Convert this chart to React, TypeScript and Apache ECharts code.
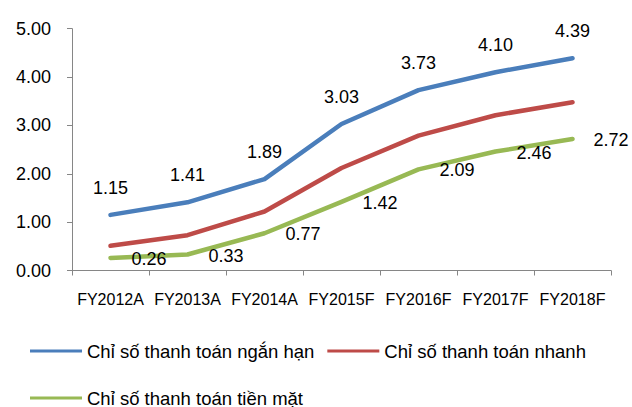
import React, { useEffect, useRef } from "react";
import * as echarts from "echarts";

const categories = ["FY2012A", "FY2013A", "FY2014A", "FY2015F", "FY2016F", "FY2017F", "FY2018F"];
const currentRatio = [1.15, 1.41, 1.89, 3.03, 3.73, 4.1, 4.39];
const quickRatio = [0.51, 0.73, 1.22, 2.12, 2.79, 3.21, 3.48];
const cashRatio = [0.26, 0.33, 0.77, 1.42, 2.09, 2.46, 2.72];
const seriesNames = [
  "Chỉ số thanh toán ngắn hạn",
  "Chỉ số thanh toán nhanh",
  "Chỉ số thanh toán tiền mặt",
];
const yTicks = [0, 1, 2, 3, 4, 5];

const FONT = "'Liberation Sans', Arial, sans-serif";
const BLUE = "#4A7EBB";
const RED = "#BE4B48";
const GREEN = "#98B954";
const AXIS = "#868686";

export default function App() {
  const ref = useRef<HTMLDivElement>(null);
  useEffect(() => {
    if (!ref.current) return;
    const chart = echarts.init(ref.current, undefined, { renderer: "svg" });
    const lineBase = (color: string) => ({
      type: "line",
      symbol: "circle",
      symbolSize: 0,
      showSymbol: true,
      itemStyle: { color },
      lineStyle: { color, width: 4.5, cap: "round", join: "round" },
    });
    const legendText = { color: "#000", fontSize: 18.5, fontFamily: FONT, lineHeight: 20 };
    chart.setOption({
      animation: false,
      backgroundColor: "#ffffff",
      textStyle: { fontFamily: FONT },
      grid: { left: 72, right: 21, top: 28.7, bottom: 136.5, containLabel: false },
      xAxis: {
        type: "category",
        data: categories,
        boundaryGap: true,
        axisLine: { lineStyle: { color: AXIS, width: 1 } },
        axisTick: { show: true, length: 5, alignWithLabel: false, lineStyle: { color: AXIS } },
        axisLabel: { color: "#000", fontSize: 16, fontFamily: FONT, margin: 21, interval: 0 },
      },
      yAxis: {
        type: "value",
        min: yTicks[0],
        max: yTicks[yTicks.length - 1],
        interval: 1,
        splitLine: { show: false },
        axisLine: { show: true, lineStyle: { color: AXIS, width: 1 } },
        axisTick: { show: true, length: 5, lineStyle: { color: AXIS } },
        axisLabel: {
          color: "#000",
          fontSize: 18,
          fontFamily: FONT,
          margin: 21,
          formatter: (v: number) => v.toFixed(2),
        },
      },
      legend: [
        {
          data: [seriesNames[0], seriesNames[1]],
          left: 30,
          top: 341,
          padding: 0,
          orient: "horizontal",
          icon: "rect",
          itemWidth: 52,
          itemHeight: 3,
          itemGap: 13,
          textStyle: legendText,
        },
        {
          data: [seriesNames[2]],
          left: 30,
          top: 388,
          padding: 0,
          orient: "horizontal",
          icon: "rect",
          itemWidth: 52,
          itemHeight: 3,
          textStyle: legendText,
        },
      ],
      series: [
        {
          ...lineBase(BLUE),
          name: seriesNames[0],
          data: currentRatio,
          z: 3,
          label: {
            show: true,
            position: "top",
            distance: 18,
            color: "#000",
            fontSize: 18,
            fontFamily: FONT,
            formatter: (p: any) => Number(p.value).toFixed(2),
          },
        },
        {
          ...lineBase(RED),
          name: seriesNames[1],
          data: quickRatio,
          z: 2,
          label: { show: false },
        },
        {
          ...lineBase(GREEN),
          name: seriesNames[2],
          data: cashRatio,
          z: 1,
          label: {
            show: true,
            position: "right",
            distance: 21,
            offset: [0, 1],
            color: "#000",
            fontSize: 18,
            fontFamily: FONT,
            formatter: (p: any) => Number(p.value).toFixed(2),
          },
        },
      ],
    });
    return () => chart.dispose();
  }, []);
  return (
    <div
      ref={ref}
      style={{ position: "fixed", left: 0, top: 0, width: 632, height: 407, background: "#fff" }}
    />
  );
}
